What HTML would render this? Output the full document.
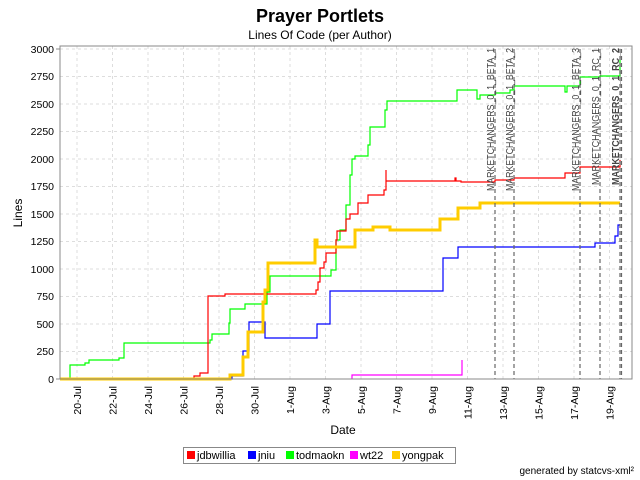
<!DOCTYPE html>
<html><head><meta charset="utf-8"><style>body{margin:0;background:#fff}svg{display:block;font-family:"Liberation Sans","DejaVu Sans",sans-serif}</style></head><body>
<svg width="640" height="480" viewBox="0 0 640 480">
<text x="320" y="22" text-anchor="middle" font-size="18" font-weight="bold">Prayer Portlets</text>
<text x="320" y="39" text-anchor="middle" font-size="12">Lines Of Code (per Author)</text>
<g stroke="#ddd" stroke-dasharray="3,3" stroke-width="1">
<line x1="60" x2="632" y1="49" y2="49"/><line x1="60" x2="632" y1="76.5" y2="76.5"/><line x1="60" x2="632" y1="104" y2="104"/><line x1="60" x2="632" y1="131.5" y2="131.5"/><line x1="60" x2="632" y1="159" y2="159"/><line x1="60" x2="632" y1="186.5" y2="186.5"/><line x1="60" x2="632" y1="214" y2="214"/><line x1="60" x2="632" y1="241.5" y2="241.5"/><line x1="60" x2="632" y1="269" y2="269"/><line x1="60" x2="632" y1="296.5" y2="296.5"/><line x1="60" x2="632" y1="324" y2="324"/><line x1="60" x2="632" y1="351.5" y2="351.5"/>
<line x1="77" x2="77" y1="46" y2="379"/><line x1="112.5" x2="112.5" y1="46" y2="379"/><line x1="148" x2="148" y1="46" y2="379"/><line x1="183.5" x2="183.5" y1="46" y2="379"/><line x1="219" x2="219" y1="46" y2="379"/><line x1="254.5" x2="254.5" y1="46" y2="379"/><line x1="290" x2="290" y1="46" y2="379"/><line x1="325.5" x2="325.5" y1="46" y2="379"/><line x1="361" x2="361" y1="46" y2="379"/><line x1="396.5" x2="396.5" y1="46" y2="379"/><line x1="432" x2="432" y1="46" y2="379"/><line x1="467.5" x2="467.5" y1="46" y2="379"/><line x1="503" x2="503" y1="46" y2="379"/><line x1="538.5" x2="538.5" y1="46" y2="379"/><line x1="574" x2="574" y1="46" y2="379"/><line x1="609.5" x2="609.5" y1="46" y2="379"/>
</g>
<g font-size="10.5" text-anchor="end">
<text x="54" y="53">3000</text><text x="54" y="80">2750</text><text x="54" y="108">2500</text><text x="54" y="135">2250</text><text x="54" y="163">2000</text><text x="54" y="190">1750</text><text x="54" y="218">1500</text><text x="54" y="245">1250</text><text x="54" y="273">1000</text><text x="54" y="300">750</text><text x="54" y="328">500</text><text x="54" y="355">250</text><text x="54" y="383">0</text>
</g>
<g stroke="#888"><line x1="56" x2="60" y1="49" y2="49"/><line x1="56" x2="60" y1="379" y2="379"/></g>
<g font-size="10.5" text-anchor="end">
<text transform="translate(81,386) rotate(-90)">20-Jul</text><text transform="translate(116.5,386) rotate(-90)">22-Jul</text><text transform="translate(152,386) rotate(-90)">24-Jul</text><text transform="translate(187.5,386) rotate(-90)">26-Jul</text><text transform="translate(223,386) rotate(-90)">28-Jul</text><text transform="translate(258.5,386) rotate(-90)">30-Jul</text><text transform="translate(294,386) rotate(-90)">1-Aug</text><text transform="translate(329.5,386) rotate(-90)">3-Aug</text><text transform="translate(365,386) rotate(-90)">5-Aug</text><text transform="translate(400.5,386) rotate(-90)">7-Aug</text><text transform="translate(436,386) rotate(-90)">9-Aug</text><text transform="translate(471.5,386) rotate(-90)">11-Aug</text><text transform="translate(507,386) rotate(-90)">13-Aug</text><text transform="translate(542.5,386) rotate(-90)">15-Aug</text><text transform="translate(578,386) rotate(-90)">17-Aug</text><text transform="translate(613.5,386) rotate(-90)">19-Aug</text>
</g>
<text x="343" y="434" text-anchor="middle" font-size="12">Date</text>
<text transform="translate(22,213) rotate(-90)" text-anchor="middle" font-size="12">Lines</text>
<g fill="none" stroke-linejoin="miter">
<polyline stroke="#0f0" stroke-width="1.2" points="70,379 70,365 85,365 85,363 89,363 89,360 119,360 119,358 124,358 124,343 210,343 210,340 212,340 212,334 229,334 229,323 230,323 230,309 245,309 245,304 267,304 267,292 270,292 270,276 331,276 331,270 336,270 336,240 340,240 340,230 346,230 346,205 350,205 350,175 352,175 352,159 355,159 355,156 368,156 368,145 370,145 370,127 385,127 385,110 387,110 387,101 457,101 457,90 477,90 477,99 480,99 480,95 495,95 495,93 510,93 510,90 514,90 514,86 565,86 565,92 567,92 567,86 580,86 580,77 600,77 600,76 620,76 620,60"/>
<polyline stroke="#f00" stroke-width="1.2" points="60,379 194,379 194,376 200,376 200,373 208,373 208,296 225,296 225,294 316,294 316,290 318,290 318,282 320,282 320,268 324,268 324,262 326,262 326,253 336,253 336,240 337,240 337,231 346,231 346,219 350,219 350,214 358,214 358,203 368,203 368,195 384,195 384,190 386,190 386,170 386,181 455,181 455,178 456,178 456,181 461,181 461,182 495,182 495,180 514,180 514,178 565,178 565,173 580,173 580,167 620,167 620,160"/>
<polyline stroke="#00f" stroke-width="1.2" points="60,379 232,379 232,376 243,376 243,351 249,351 249,322 265,322 265,338 265,338 317,338 317,324 330,324 330,291 440,291 440,291 443,291 443,258 458,258 458,247 595,247 595,243 615,243 615,236 618,236 618,225 620,225"/>
<polyline stroke="#f0f" stroke-width="1.2" points="352,379 352,375 462,375 462,360"/>
<polyline stroke="#fc0" stroke-width="3" points="60,379 230,379 230,375 243,375 243,357 248,357 248,332 263,332 263,302 265,302 265,290 268,290 268,263 315,263 315,240 317,240 317,247 355,247 355,230 373,230 373,227 390,227 390,230 440,230 440,219 458,219 458,208 460,208 460,208 480,208 480,203 620,203"/>
</g>
<g stroke="#666" stroke-dasharray="4,3" stroke-width="1.2">
<line x1="495" x2="495" y1="49" y2="379"/><line x1="514" x2="514" y1="49" y2="379"/><line x1="580" x2="580" y1="49" y2="379"/><line x1="600" x2="600" y1="49" y2="379"/><line x1="620" x2="620" y1="49" y2="379"/><line x1="621.5" x2="621.5" y1="49" y2="379"/>
</g>
<g font-size="10" fill="#444" text-anchor="end">
<text transform="translate(494,48) rotate(-90)" textLength="143" lengthAdjust="spacingAndGlyphs">MARKETCHANGERS_0_1_BETA_1</text>
<text transform="translate(513,48) rotate(-90)" textLength="143" lengthAdjust="spacingAndGlyphs">MARKETCHANGERS_0_1_BETA_2</text>
<text transform="translate(579,48) rotate(-90)" textLength="143" lengthAdjust="spacingAndGlyphs">MARKETCHANGERS_0_1_BETA_3</text>
<text transform="translate(599,48) rotate(-90)" textLength="137" lengthAdjust="spacingAndGlyphs">MARKETCHANGERS_0_1_RC_1</text>
<text transform="translate(619,48) rotate(-90)" font-weight="bold" textLength="137" lengthAdjust="spacingAndGlyphs">MARKETCHANGERS_0_1_RC_2</text>
</g>
<rect x="60" y="46" width="572" height="333" fill="none" stroke="#888"/>
<rect x="183.5" y="447.5" width="272" height="16" fill="#fff" stroke="#888"/>
<g font-size="11">
<rect x="187" y="451" width="8" height="8" fill="#f00"/><text x="197" y="459">jdbwillia</text>
<rect x="248" y="451" width="8" height="8" fill="#00f"/><text x="258" y="459">jniu</text>
<rect x="286" y="451" width="8" height="8" fill="#0f0"/><text x="296" y="459">todmaokn</text>
<rect x="350" y="451" width="8" height="8" fill="#f0f"/><text x="360" y="459">wt22</text>
<rect x="392" y="451" width="8" height="8" fill="#fc0"/><text x="402" y="459">yongpak</text>
</g>
<text x="634" y="474" text-anchor="end" font-size="10">generated by statcvs-xml²</text>
</svg>
</body></html>
